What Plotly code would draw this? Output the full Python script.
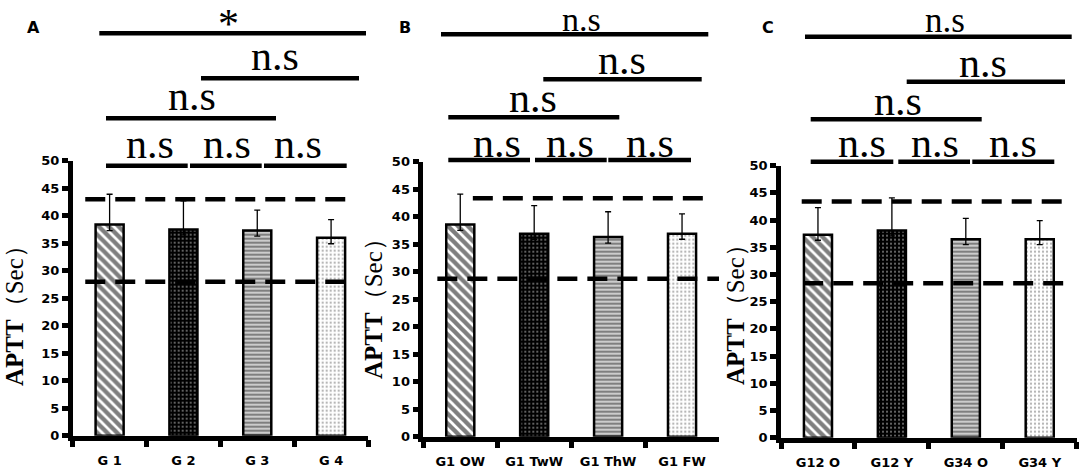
import plotly.graph_objects as go

W, H = 1084, 471

# ---------------- data ----------------
cats_A = ["G 1", "G 2", "G 3", "G 4"]
mean_A = [38.4, 37.5, 37.3, 36.0]
errup_A = [5.5, 5.2, 3.7, 3.3]
errdn_A = [1.1, 1.0, 1.0, 1.1]
ref_A = [28.0, 43.0]

cats_B = ["G1 OW", "G1 TwW", "G1 ThW", "G1 FW"]
mean_B = [38.6, 36.9, 36.3, 36.9]
errup_B = [5.5, 5.1, 4.6, 3.6]
errdn_B = [1.1, 1.0, 1.1, 1.0]
ref_B = [28.7, 43.35]

cats_C = ["G12 O", "G12 Y", "G34 O", "G34 Y"]
mean_C = [37.3, 38.1, 36.5, 36.5]
errup_C = [5.0, 6.0, 3.8, 3.4]
errdn_C = [1.0, 1.0, 1.0, 1.0]
ref_C = [28.4, 43.4]

sig_A = ["n.s", "n.s", "n.s", "n.s", "n.s", "*"]
sig_B = ["n.s", "n.s", "n.s", "n.s", "n.s", "n.s"]
sig_C = ["n.s", "n.s", "n.s", "n.s", "n.s", "n.s"]

panel_letters = ["A", "B", "C"]
ytitle = "<b>APTT</b>（Sec）"

# ---------------- layout geometry (pixels) ----------------
# texts: (centre x, baseline y, font size)
panels = [
    dict(x0=72.7, x1=368.0, y0=435.7, y50=160.7,
         ref_x=[(-0.33, 3.24), (-0.33, 3.24)],
         lines=[(106, 187.7, 165.7), (190, 261.7, 165.7), (264, 346.7, 165.7),
                (106, 276, 118.3), (201, 359, 78.3), (99.3, 366, 33.3)],
         texts=[(150, 158.3, 42), (226.7, 158.3, 42), (298.3, 158.3, 42),
                (191.7, 110, 42), (275, 70, 42), (228, 38, 42)],
         letter=(33, 28), title=(14, 310)),
    dict(x0=423.3, x1=719.0, y0=436.7, y50=161.7,
         ref_x=[(-0.31, 3.5), (0.17, 3.31)],
         lines=[(448.3, 530, 160), (535, 606.7, 160), (608.3, 691, 160),
                (448.3, 619.3, 117.3), (543.3, 701.7, 79.3), (441, 708.3, 34.3)],
         texts=[(496.7, 157, 42), (570, 157, 42), (650, 157, 42),
                (533.3, 111.7, 42), (621.7, 74, 42), (581.7, 30.5, 34)],
         letter=(405, 28), title=(373, 303)),
    dict(x0=781.0, x1=1076.7, y0=437.7, y50=165.7,
         ref_x=[(-0.2, 3.35), (-0.22, 3.30)],
         lines=[(810.7, 893.3, 161.7), (898.3, 970, 161.7), (972.3, 1054.3, 161.7),
                (810.7, 981.7, 119.3), (906.7, 1065, 81.7), (805, 1071.7, 36.7)],
         texts=[(861.7, 156.7, 42), (935, 156.7, 42), (1013.3, 156.7, 42),
                (898.3, 115, 42), (983.3, 76.7, 42), (945, 32.5, 35)],
         letter=(768, 28), title=(735, 309)),
]

datasets = [
    (cats_A, mean_A, errup_A, errdn_A, ref_A, sig_A),
    (cats_B, mean_B, errup_B, errdn_B, ref_B, sig_B),
    (cats_C, mean_C, errup_C, errdn_C, ref_C, sig_C),
]


def px(x):
    return x / W


def py(y):
    return 1 - y / H


pattern = dict(
    shape=["\\", ".", "-", "."],
    bgcolor=["white", "black", "white", "white"],
    fgcolor=["black", "white", "black", "#666666"],
    size=[7, 4, 4, 4],
    solidity=[0.62, 0.2, 0.7, 0.25],
)

fig = go.Figure()
shapes = []
annotations = []
SERIF = "Liberation Serif"
SANS = "DejaVu Sans"
AXW = 4.5

for i, (p, (cats, mean, eu, ed, ref, sig)) in enumerate(zip(panels, datasets)):
    ax = "" if i == 0 else str(i + 1)
    fig.add_trace(go.Bar(
        x=cats, y=mean, width=0.38,
        marker=dict(color="white", line=dict(color="black", width=2.5), pattern=pattern),
        error_y=dict(type="data", symmetric=False, array=eu, arrayminus=ed,
                     color="black", thickness=1.3, width=3),
        xaxis="x" + ax, yaxis="y" + ax, showlegend=False, hoverinfo="skip",
    ))
    xd = [px(p["x0"]), px(p["x1"])]
    yd = [py(p["y0"]), py(p["y50"])]
    fig.update_layout(**{
        "xaxis" + ax: dict(
            domain=xd, anchor="y" + ax, range=[-0.5, 3.5], type="category",
            showline=True, linewidth=AXW, linecolor="black",
            ticks="outside", tickson="boundaries", ticklen=7, tickwidth=AXW, tickcolor="black",
            tickfont=dict(family=SANS, size=13, color="black", weight="bold"),
            tickangle=0, ticklabelstandoff=9, showgrid=False, zeroline=False,
            fixedrange=True, automargin=False,
        ),
        "yaxis" + ax: dict(
            domain=yd, anchor="x" + ax, range=[0, 50], dtick=5,
            showline=True, linewidth=AXW, linecolor="black",
            ticks="outside", ticklen=6, tickwidth=AXW, tickcolor="black",
            tickfont=dict(family=SANS, size=13, color="black", weight="bold"),
            showgrid=False, zeroline=False, fixedrange=True, automargin=False,
        ),
    })
    # reference range dashed lines
    for (xa, xb), yv in zip(p["ref_x"], ref):
        shapes.append(dict(type="line", xref="x" + ax, yref="y" + ax,
                           x0=xa, x1=xb, y0=yv, y1=yv, layer="above",
                           line=dict(color="black", width=4.5, dash="20px,10px")))
    # significance bars
    for (a, b, y) in p["lines"]:
        shapes.append(dict(type="line", xref="paper", yref="paper",
                           x0=px(a), x1=px(b), y0=py(y), y1=py(y),
                           line=dict(color="black", width=4.5)))
    for (cx, base, fs), label in zip(p["texts"], sig):
        annotations.append(dict(
            x=px(cx), y=py(base - 0.3375 * fs), xref="paper", yref="paper",
            text=label, showarrow=False, xanchor="center", yanchor="middle",
            font=dict(family=SERIF, size=fs, color="black")))
    lx, ly = p["letter"]
    annotations.append(dict(x=px(lx), y=py(ly), xref="paper", yref="paper",
                            text="<b>%s</b>" % panel_letters[i], showarrow=False,
                            xanchor="center", yanchor="middle",
                            font=dict(family=SANS, size=16, color="black")))
    tx, ty = p["title"]
    annotations.append(dict(x=px(tx), y=py(ty), xref="paper", yref="paper",
                            text=ytitle, showarrow=False, textangle=-90,
                            xanchor="center", yanchor="middle",
                            font=dict(family=SERIF, size=25, color="black")))

fig.update_layout(
    width=W, height=H, margin=dict(l=0, r=0, t=0, b=0, autoexpand=False),
    paper_bgcolor="white", plot_bgcolor="white",
    shapes=shapes, annotations=annotations, hovermode=False,
)

fig.write_html(
    "out.html",
    config={"displayModeBar": False},
    post_script="document.body.style.margin='0';document.body.style.overflow='hidden';",
)
